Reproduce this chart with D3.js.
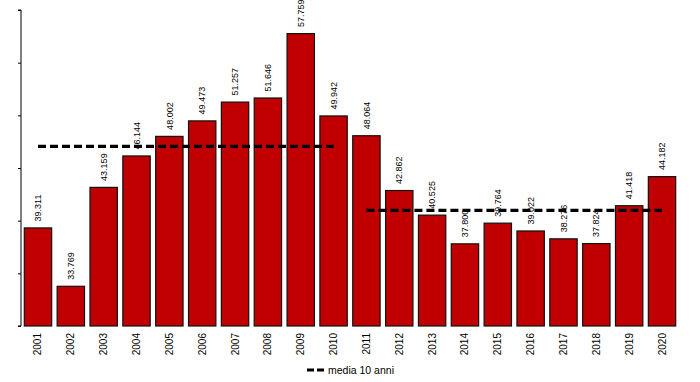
<!DOCTYPE html>
<html>
<head>
<meta charset="utf-8">
<script src="https://cdn.jsdelivr.net/npm/d3@7"></script>
<style>
  html, body { margin: 0; padding: 0; background: #fff; }
  svg { display: block; }
  text { font-family: "Liberation Sans Narrow", "Arial Narrow", "Liberation Sans", Arial, sans-serif; fill: #000; }
</style>
</head>
<body>
<svg id="chart" width="700" height="382"></svg>
<script>
// ---- data ----
const years = ["2001","2002","2003","2004","2005","2006","2007","2008","2009","2010",
               "2011","2012","2013","2014","2015","2016","2017","2018","2019","2020"];
const values = [39.311, 33.769, 43.159, 46.144, 48.002, 49.473, 51.257, 51.646, 57.759, 49.942,
                48.064, 42.862, 40.525, 37.800, 39.764, 39.022, 38.276, 37.824, 41.418, 44.182];
const valueLabels = ["39.311","33.769","43.159","46.144","48.002","49.473","51.257","51.646","57.759","49.942",
                     "48.064","42.862","40.525","37.800","39.764","39.022","38.276","37.824","41.418","44.182"];
const mediaStart = ["2001", "2011"];
const mediaEnd   = ["2010", "2020"];
const mediaValues = [47.046, 40.974];
const yTicks = [30, 35, 40, 45, 50, 55, 60];
const legendLabel = "media 10 anni";

// ---- layout ----
const svg = d3.select("#chart");
const x = d3.scaleBand().domain(years).range([24.3, 675.7]).paddingInner(0.1667).paddingOuter(0);
const y = d3.scaleLinear().domain([30, 60]).range([326, 10]);

// bars
svg.append("g").selectAll("rect").data(values).join("rect")
  .attr("x", (d, i) => x(years[i]))
  .attr("y", d => y(d))
  .attr("width", x.bandwidth())
  .attr("height", d => y(30) - y(d))
  .attr("fill", "#c00000")
  .attr("stroke", "#111")
  .attr("stroke-width", 1.2);

// y axis (ticks only, no labels)
const yAxis = d3.axisLeft(y).tickValues(yTicks).tickSize(3).tickFormat("");
const ga = svg.append("g").attr("transform", "translate(21,0)").call(yAxis);
ga.select(".domain").attr("stroke", "#000").attr("d", `M-3,${y(60)}H0V${y(30)}H-3`);
ga.selectAll(".tick line").attr("stroke", "#000");

// value labels (rotated)
svg.append("g").selectAll("text").data(values).join("text")
  .attr("transform", (d, i) => `translate(${x(years[i]) + x.bandwidth() / 2},${y(d) - 6.5}) rotate(-90)`)
  .attr("text-anchor", "start")
  .attr("dy", "0.35em")
  .style("font-size", "9px")
  .text((d, i) => valueLabels[i]);

// year labels
svg.append("g").selectAll("text").data(years).join("text")
  .attr("transform", d => `translate(${x(d) + x.bandwidth() / 2},333) rotate(-90)`)
  .attr("text-anchor", "end")
  .attr("dy", "0.35em")
  .style("font-size", "10px")
  .text(d => d);

// media lines
svg.append("g").selectAll("line").data(mediaValues).join("line")
  .attr("x1", (d, i) => x(mediaStart[i]) + x.bandwidth() / 2)
  .attr("x2", (d, i) => x(mediaEnd[i]) + x.bandwidth() / 2)
  .attr("y1", d => y(d))
  .attr("y2", d => y(d))
  .attr("stroke", "#000")
  .attr("stroke-width", 3.2)
  .attr("stroke-dasharray", "8,4");

// legend
const lg = svg.append("g").attr("transform", "translate(307,370)");
lg.append("line").attr("x1", 0).attr("x2", 20).attr("y1", 0).attr("y2", 0)
  .attr("stroke", "#000").attr("stroke-width", 3.2).attr("stroke-dasharray", "7,3,7,3,2,3");
lg.append("text").attr("x", 21).attr("dy", "0.35em").style("font-size", "10.5px").text(legendLabel);
</script>
</body>
</html>
